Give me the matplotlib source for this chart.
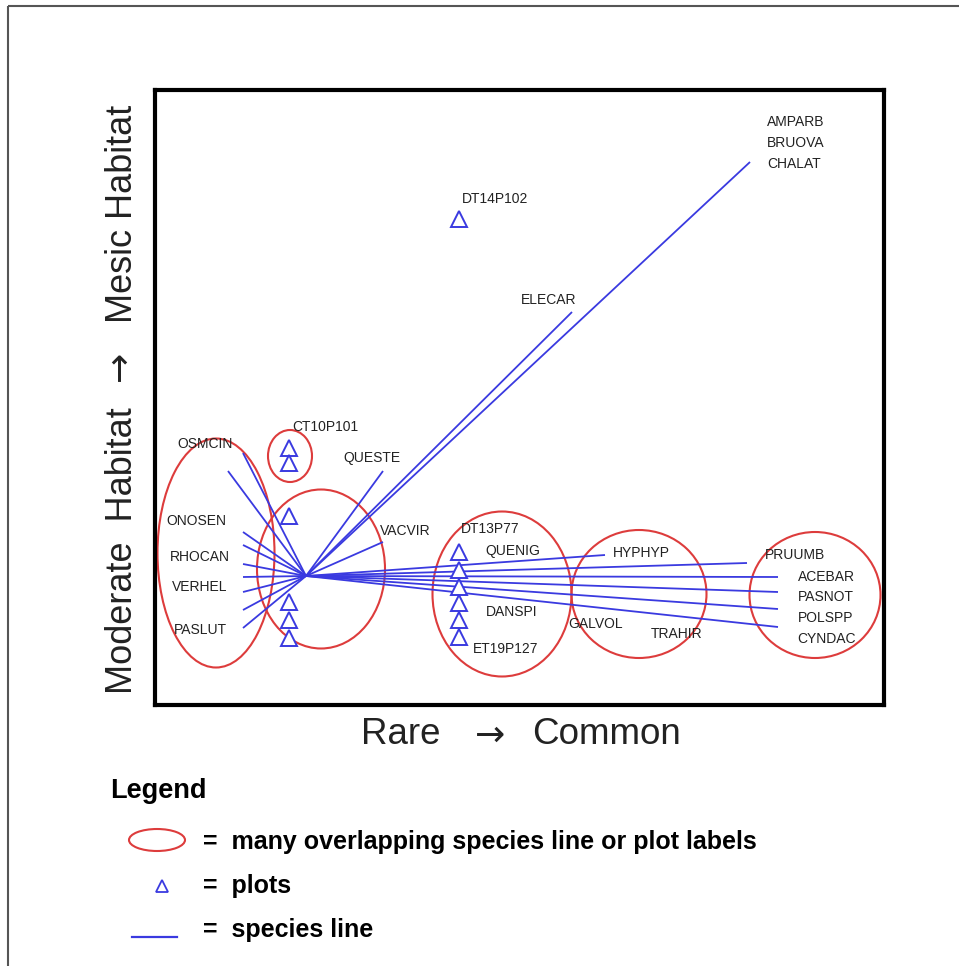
import matplotlib.pyplot as plt
from matplotlib.patches import Ellipse, Rectangle

W, H = 959, 966
FONT = ["Liberation Sans", "DejaVu Sans"]
BLUE = "#3a3ae0"
RED = "#dd3c3c"
TXT = "#222222"

# everything in pixel units (x right, y down)
hub_x, hub_y = 306, 576

# species lines: each one runs from the hub to these end points
line_x = [243, 228, 243, 243, 243, 243, 243, 243, 243,
          383, 383, 572, 750,
          605, 747, 778, 778, 778, 778]
line_y = [453, 471, 532, 545, 564, 577, 592, 610, 628,
          471, 542, 312, 162,
          555, 563, 577, 592, 609, 627]

# plots (triangles)
plot_x = [459, 289, 289, 289, 289, 289, 289, 459, 459, 459, 459, 459, 459]
plot_y = [219, 448, 463, 516, 602, 620, 638, 552, 570, 587, 603, 620, 637]

# labels
label_text = ["AMPARB", "BRUOVA", "CHALAT", "DT14P102", "ELECAR", "CT10P101",
              "OSMCIN", "QUESTE", "ONOSEN", "VACVIR", "DT13P77", "QUENIG",
              "HYPHYP", "RHOCAN", "PRUUMB", "ACEBAR", "VERHEL", "PASNOT",
              "DANSPI", "POLSPP", "GALVOL", "PASLUT", "TRAHIR", "CYNDAC",
              "ET19P127"]
label_x = [767, 767, 767, 462, 521, 292, 177, 343, 166, 380, 461, 485,
           613, 170, 765, 798, 172, 798, 486, 798, 568, 174, 651, 797, 473]
label_y = [122, 143, 164, 199, 300, 427, 444, 458, 521, 531, 529, 551,
           553, 557, 555, 577, 587, 597, 612, 618, 624, 630, 634, 639, 649]

# red ellipses around crowded groups
ell_x = [216, 290, 321, 502, 639, 815]
ell_y = [553, 456, 569, 594, 594, 595]
ell_w = [117, 44, 128, 139, 135, 131]
ell_h = [229, 52, 159, 165, 128, 126]

fig = plt.figure(figsize=(W / 100, H / 100), dpi=100)

# page layer for outer frame, axis titles and legend
page = fig.add_axes([0, 0, 1, 1])
page.set_xlim(0, W)
page.set_ylim(H, 0)
page.axis("off")
page.add_patch(Rectangle((8, 6), W + 20, H + 20, fill=False,
                         edgecolor="#555555", lw=1.5, clip_on=False))

# main ordination panel
L, R, T, B = 155, 884, 90, 705
ax = fig.add_axes([L / W, 1 - B / H, (R - L) / W, (B - T) / H])
ax.set_xlim(L, R)
ax.set_ylim(B, T)
ax.set_xticks([])
ax.set_yticks([])
for s in ax.spines.values():
    s.set_linewidth(3)
    s.set_color("black")

for x, y in zip(line_x, line_y):
    ax.plot([hub_x, x], [hub_y, y], color=BLUE, lw=1.3, solid_capstyle="butt")

ax.plot(plot_x, plot_y, linestyle="none", marker="^", markersize=11.5,
        markerfacecolor="white", markeredgecolor=BLUE, markeredgewidth=1.4)

for cx, cy, w, h in zip(ell_x, ell_y, ell_w, ell_h):
    ax.add_patch(Ellipse((cx, cy), w, h, fill=False, edgecolor=RED, lw=1.5))

for t, x, y in zip(label_text, label_x, label_y):
    ax.text(x, y, t, ha="left", va="center", fontsize=10, color=TXT,
            family=FONT)

# axis titles (arrow drawn in DejaVu, Liberation's arrow is tiny)
page.text(441, 734, "Rare", ha="right", va="center", fontsize=26.5,
          color=TXT, family=FONT)
page.text(490, 736, "\u2192", ha="center", va="center", fontsize=26,
          color=TXT, family="DejaVu Sans")
page.text(532, 734, "Common", ha="left", va="center", fontsize=26.5,
          color=TXT, family=FONT)

page.text(122, 551, "Moderate  Habitat", ha="center", va="center",
          rotation=90, fontsize=26, color=TXT, family=FONT)
page.text(120, 366, "\u2192", ha="center", va="center", rotation=90,
          fontsize=26, color=TXT, family="DejaVu Sans")
page.text(122, 214, "Mesic Habitat", ha="center", va="center",
          rotation=90, fontsize=26, color=TXT, family=FONT)

# legend
page.text(110, 791, "Legend", ha="left", va="center", fontsize=19.5,
          fontweight="bold", color="black", family=FONT)
page.add_patch(Ellipse((157, 840), 56, 22, fill=False, edgecolor=RED, lw=1.5))
page.text(203, 842, "=  many overlapping species line or plot labels",
          ha="left", va="center", fontsize=18, fontweight="bold",
          color="black", family=FONT)
page.plot([162], [886], linestyle="none", marker="^", markersize=9,
          markerfacecolor="white", markeredgecolor=BLUE, markeredgewidth=1.3)
page.text(203, 886, "=  plots", ha="left", va="center", fontsize=18,
          fontweight="bold", color="black", family=FONT)
page.plot([132, 177], [937, 937], color=BLUE, lw=1.6)
page.text(203, 930, "=  species line", ha="left", va="center",
          fontsize=18, fontweight="bold", color="black", family=FONT)

fig.savefig("out.png", dpi=100)
